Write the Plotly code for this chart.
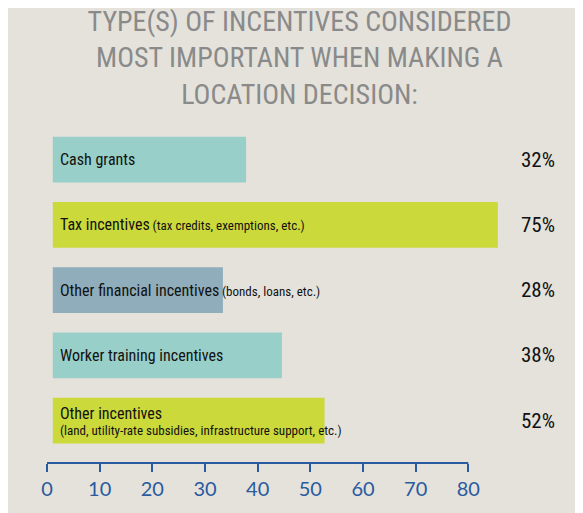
import plotly.graph_objects as go

categories = ["Cash grants", "Tax incentives", "Other financial incentives", "Worker training incentives", "Other incentives"]
notes = ["", "(tax credits, exemptions, etc.)", "(bonds, loans, etc.)", "", "(land, utility-rate subsidies, infrastructure support, etc.)"]
percents = [32, 75, 28, 38, 52]
bar_lengths = [36.7, 84.5, 32.3, 43.5, 51.6]  # drawn lengths (axis units)
colors = ["#98cfc8", "#cbd93b", "#8fadbb", "#98cfc8", "#cbd93b"]
tick_vals = [0, 10, 20, 30, 40, 50, 60, 70, 80]
base = 1.1

ypos = list(range(len(categories)))
fig = go.Figure(go.Bar(x=bar_lengths, y=ypos, base=base, orientation="h",
                       marker=dict(color=colors, line=dict(width=0)), width=0.7,
                       hoverinfo="skip"))

font = "Liberation Sans Narrow, Roboto Condensed, Arial Narrow, sans-serif"
for i, (c, n, p) in enumerate(zip(categories, notes, percents)):
    if i == 4:
        txt = f"<span style='font-size:16px'>{c}</span><br><span style='font-size:13px'>{n}</span>"
    else:
        txt = f"<span style='font-size:16px'>{c}</span>" + (f" <span style='font-size:13px'>{n}</span>" if n else "")
    fig.add_annotation(x=base, y=i, text=txt, xanchor="left", xshift=5, showarrow=False,
                       align="left", font=dict(family=font, color="#111"))
    fig.add_annotation(x=1.0, xref="paper", y=i, text=f"{p}%", xanchor="right", xshift=36,
                       showarrow=False, font=dict(family=font, size=21, color="#111"))

fig.add_shape(type="line", x0=0, x1=80, y0=0, y1=0, xref="x", yref="paper",
              line=dict(color="#2a5aa0", width=2))

fig.update_layout(
    width=583, height=513, margin=dict(l=39, r=70, t=119, b=58),
    paper_bgcolor="#e4e2db", plot_bgcolor="#e4e2db", showlegend=False,
    title=dict(text="TYPE(S) OF INCENTIVES CONSIDERED<br>MOST IMPORTANT WHEN MAKING A<br>LOCATION DECISION:",
               x=0.5, xanchor="center", y=0.955, yanchor="top",
               font=dict(family=font, size=28, color="#8a8a8a")),
    xaxis=dict(range=[0, 90], tickvals=tick_vals, showgrid=False, zeroline=False, showline=False,
               ticks="outside", tickcolor="#2a5aa0", ticklen=8, tickwidth=2,
               tickfont=dict(family="Lato, sans-serif", size=20, color="#2a5aa0")),
    yaxis=dict(range=[4.65, -0.5], showticklabels=False, showgrid=False, zeroline=False, visible=False),
)
fig.write_html("out.html")
